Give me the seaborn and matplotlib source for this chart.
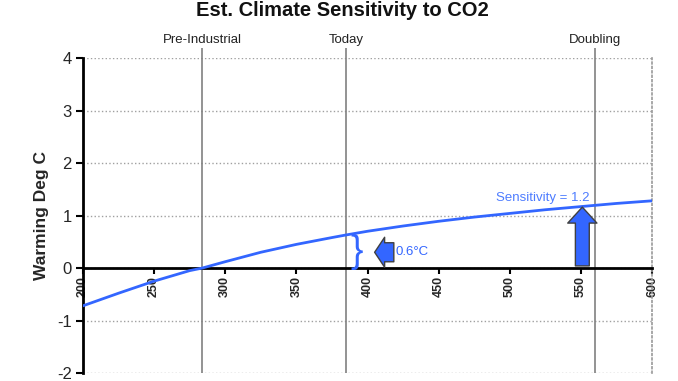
import matplotlib
matplotlib.use('Agg')
import matplotlib.pyplot as plt
import seaborn as sns
import pandas as pd

# CO2 concentration (ppm) and estimated warming (deg C)
co2_ppm = [200, 225, 250, 275, 284, 300, 325, 350, 375, 385, 400, 425, 450, 475, 500, 525, 550, 575, 600]
warming = [-0.72, -0.48, -0.25, -0.05, 0.0, 0.12, 0.30, 0.45, 0.58, 0.63, 0.70, 0.80, 0.89, 0.97, 1.04, 1.11, 1.17, 1.23, 1.28]

marker_names = ['Pre-Industrial', 'Today', 'Doubling']
marker_ppm = [284, 385, 560]

x_ticks = [200, 250, 300, 350, 400, 450, 500, 550, 600]
y_ticks = [-2, -1, 0, 1, 2, 3, 4]

BLUE = '#3366FF'

sns.set_theme(style='white')
plt.rcParams['font.family'] = ['Liberation Sans', 'DejaVu Sans']

df = pd.DataFrame({'CO2': co2_ppm, 'Warming': warming})

fig = plt.figure(figsize=(6.78, 3.81), dpi=100)
ax = fig.add_axes([0.1224, 0.021, 0.8393, 0.8267])

sns.lineplot(data=df, x='CO2', y='Warming', color=BLUE, linewidth=2, ax=ax, zorder=4)

# spines first (moving a spine resets the tick styling)
ax.spines['bottom'].set_position(('data', 0))
ax.spines['bottom'].set_linewidth(2)
ax.spines['bottom'].set_color('black')
ax.spines['bottom'].set_zorder(3)
ax.spines['left'].set_linewidth(2)
ax.spines['left'].set_color('black')
ax.spines['right'].set_linestyle(':')
ax.spines['right'].set_color('#999999')
ax.spines['right'].set_linewidth(1.2)
ax.spines['top'].set_visible(False)

ax.set_xlim(200, 600)
ax.set_ylim(-2, 4)
ax.set_xticks(x_ticks)
ax.set_yticks(y_ticks)
ax.set_xticklabels([str(t) for t in x_ticks], rotation=90, fontsize=9, fontweight='bold')
ax.set_yticklabels([str(t) for t in y_ticks], fontsize=12)

# horizontal dotted grid
ax.yaxis.grid(True, linestyle=':', color='#a0a0a0', linewidth=1)
ax.xaxis.grid(False)

ax.tick_params(axis='x', direction='out', length=4, width=1.5, color='black', pad=2, bottom=True)
ax.tick_params(axis='y', direction='out', length=5, width=1.5, color='black', pad=3, left=True)

# vertical reference lines with labels above
for name, x in zip(marker_names, marker_ppm):
    ax.vlines(x, -2, 4.2, color='#808080', linewidth=1.2, clip_on=False, zorder=2)
    ax.text(x, 4.34, name, ha='center', va='center', fontsize=9.5, color='#222222')

ax.set_xlabel('')
ax.set_ylabel('Warming Deg C', fontsize=12.5, fontweight='bold', labelpad=6)

# annotations
ax.text(392, 0.30, '}', ha='center', va='center', fontsize=27, color=BLUE,
        fontweight='light', zorder=5)
ax.annotate('', xy=(405, 0.30), xytext=(418.5, 0.30),
            arrowprops=dict(arrowstyle='simple,head_width=2.16,head_length=0.72,tail_width=1.37',
                            fc=BLUE, ec='#404040', lw=1, shrinkA=0, shrinkB=0, mutation_scale=10),
            zorder=5)
ax.text(420, 0.30, '0.6°C', ha='left', va='center', fontsize=9.5, color=BLUE)

ax.annotate('', xy=(551, 1.16), xytext=(551, 0.04),
            arrowprops=dict(arrowstyle='simple,head_width=2.1,head_length=1.15,tail_width=1.0',
                            fc=BLUE, ec='#404040', lw=1, shrinkA=0, shrinkB=0, mutation_scale=10),
            zorder=5)
ax.text(523, 1.33, 'Sensitivity = 1.2', ha='center', va='center', fontsize=9.5, color='#4D7CFF')

fig.text(0.505, 1 - 10 / 381, 'Est. Climate Sensitivity to CO2', ha='center', va='center',
         fontsize=14.5, fontweight='bold', color='#111111')

fig.savefig('out.png', dpi=100)
